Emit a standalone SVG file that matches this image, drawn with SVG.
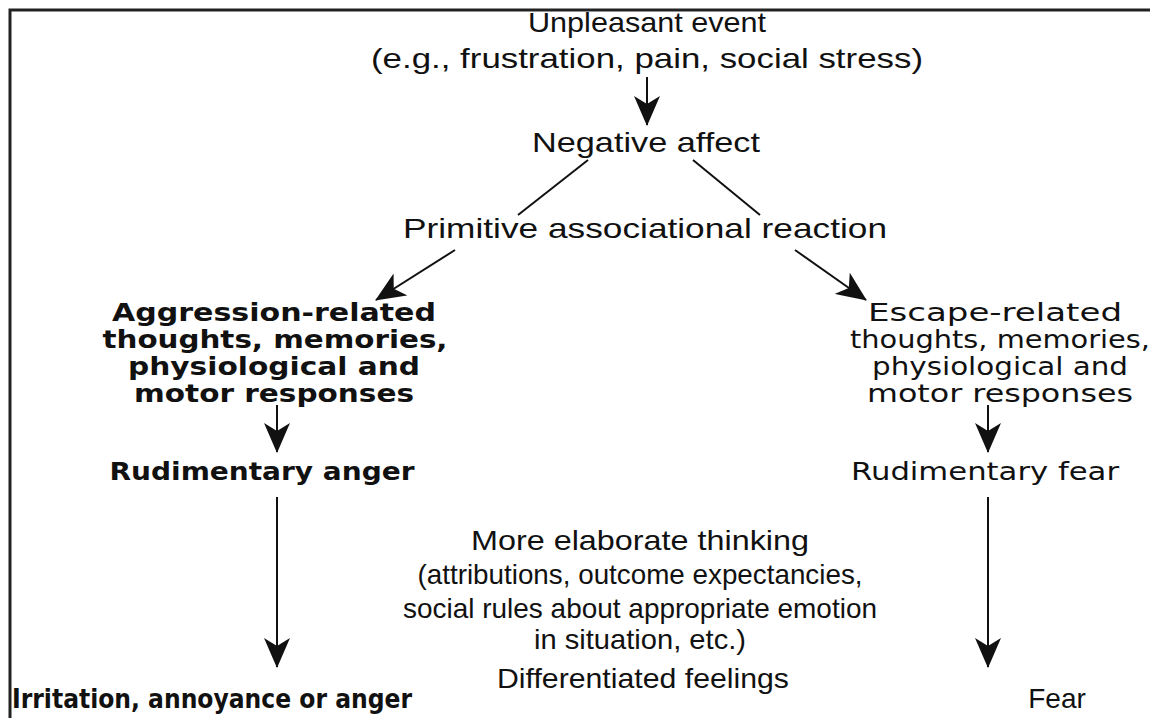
<svg xmlns="http://www.w3.org/2000/svg" width="1151" height="718" viewBox="0 0 1151 718">
<defs>
<marker id="ah" viewBox="0 0 30 26" refX="29" refY="13" markerWidth="30" markerHeight="26" markerUnits="userSpaceOnUse" orient="auto">
<path d="M0,0 L30,13 L0,26 L8,13 Z" fill="#111"/>
</marker>
<style>
.t{font-family:"Liberation Sans",Arial,sans-serif;font-size:28px;fill:#111;text-anchor:middle}
.w{font-family:"DejaVu Sans",Verdana,sans-serif;font-size:24px;fill:#111;text-anchor:middle}
.b{font-family:"DejaVu Sans",Verdana,sans-serif;font-size:24px;font-weight:bold;fill:#111;text-anchor:middle}
.bc{font-family:"DejaVu Sans Condensed","DejaVu Sans",sans-serif;font-stretch:condensed;font-size:26px;font-weight:bold;fill:#111}
.c{stroke:#111;stroke-width:2;fill:none}
.a{stroke:#111;stroke-width:2;fill:none;marker-end:url(#ah)}
</style>
</defs>
<rect width="1151" height="718" fill="#fff"/>
<path d="M10,718 V10 H1150" stroke="#222" stroke-width="3" fill="none"/>
<g id="n-unpleasant">
<text class="t" x="647" y="32" textLength="238" lengthAdjust="spacingAndGlyphs">Unpleasant event</text>
<text class="t" x="647" y="68" textLength="552" lengthAdjust="spacingAndGlyphs">(e.g., frustration, pain, social stress)</text>
</g>
<g id="n-negative"><text class="t" x="646" y="152" textLength="228" lengthAdjust="spacingAndGlyphs">Negative affect</text></g>
<g id="n-primitive"><text class="t" x="645" y="238" textLength="484" lengthAdjust="spacingAndGlyphs">Primitive associational reaction</text></g>
<g id="n-aggression">
<text class="b" x="274" y="321" textLength="324" lengthAdjust="spacingAndGlyphs">Aggression-related</text>
<text class="b" x="275" y="348" textLength="345" lengthAdjust="spacingAndGlyphs">thoughts, memories,</text>
<text class="b" x="274" y="375" textLength="292" lengthAdjust="spacingAndGlyphs">physiological and</text>
<text class="b" x="274" y="402" textLength="280" lengthAdjust="spacingAndGlyphs">motor responses</text>
</g>
<g id="n-escape">
<text class="w" x="995" y="321" textLength="254" lengthAdjust="spacingAndGlyphs">Escape-related</text>
<text class="w" x="1000" y="348" textLength="300" lengthAdjust="spacingAndGlyphs">thoughts, memories,</text>
<text class="w" x="1000" y="375" textLength="256" lengthAdjust="spacingAndGlyphs">physiological and</text>
<text class="w" x="1000" y="402" textLength="266" lengthAdjust="spacingAndGlyphs">motor responses</text>
</g>
<g id="n-rud-anger"><text class="b" x="262" y="480" textLength="305" lengthAdjust="spacingAndGlyphs">Rudimentary anger</text></g>
<g id="n-rud-fear"><text class="w" x="985" y="480" textLength="268" lengthAdjust="spacingAndGlyphs">Rudimentary fear</text></g>
<g id="n-elaborate">
<text class="t" x="640" y="550" textLength="338" lengthAdjust="spacingAndGlyphs">More elaborate thinking</text>
<text class="t" x="640" y="584" textLength="445" lengthAdjust="spacingAndGlyphs">(attributions, outcome expectancies,</text>
<text class="t" x="640" y="618" textLength="474" lengthAdjust="spacingAndGlyphs">social rules about appropriate emotion</text>
<text class="t" x="640" y="649" textLength="212" lengthAdjust="spacingAndGlyphs">in situation, etc.)</text>
</g>
<g id="n-differentiated"><text class="t" x="643" y="688" textLength="292" lengthAdjust="spacingAndGlyphs">Differentiated feelings</text></g>
<g id="n-irritation"><text class="bc" x="12" y="708" textLength="400" lengthAdjust="spacingAndGlyphs">Irritation, annoyance or anger</text></g>
<g id="n-fear"><text class="t" x="1057" y="708">Fear</text></g>
<g id="connectors">
<line class="a" x1="455" y1="250" x2="376" y2="300"/>
<line class="a" x1="647" y1="77" x2="647" y2="125"/>
<line class="c" x1="588" y1="160" x2="518" y2="215"/>
<line class="c" x1="693" y1="160" x2="760" y2="215"/>
<line class="a" x1="795" y1="250" x2="866" y2="300"/>
<line class="a" x1="277" y1="405" x2="277" y2="452"/>
<line class="a" x1="988" y1="405" x2="988" y2="452"/>
<line class="a" x1="277" y1="497" x2="277" y2="667"/>
<line class="a" x1="988" y1="497" x2="988" y2="667"/>
</g>
</svg>
